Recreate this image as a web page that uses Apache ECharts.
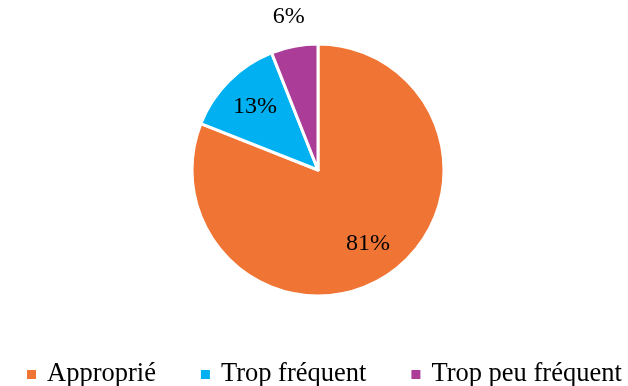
<!DOCTYPE html>
<html>
<head>
<meta charset="utf-8">
<script src="https://cdn.jsdelivr.net/npm/echarts@6/dist/echarts.min.js"></script>
<style>
  html, body { margin: 0; padding: 0; background: #fff; }
  #chart { width: 628px; height: 386px; }
</style>
</head>
<body>
<div id="chart"></div>
<script>
var categories = ["Approprié", "Trop fréquent", "Trop peu fréquent"];
var values = [81, 13, 6];
var colors = ["#F07535", "#00B0F0", "#AB3C97"];
// which slices carry their label inside the pie, and which outside
var labelInside = [true, true, false];

var chart = echarts.init(document.getElementById("chart"));
var fontFamily = "'Liberation Serif', 'DejaVu Serif', serif";

var center = [318, 170];

function pieData(showFn) {
  return categories.map(function (name, i) {
    return {
      name: name,
      value: values[i],
      label: { show: showFn(i) }
    };
  });
}

var option = {
  animation: false,
  color: colors,
  legend: {
    bottom: -7,
    left: 20,
    icon: "rect",
    itemWidth: 11,
    itemHeight: 11,
    itemGap: 43,
    textStyle: {
      fontFamily: fontFamily,
      fontSize: 26.5,
      color: "#000",
      padding: [0, 0, 0, 5]
    },
    data: categories
  },
  series: [
    {
      // visible pie
      type: "pie",
      center: center,
      radius: [0, 126],
      startAngle: 90,
      label: { show: false },
      labelLine: { show: false },
      itemStyle: { borderColor: "#fff", borderWidth: 3 },
      emphasis: { disabled: true },
      data: categories.map(function (name, i) {
        return { name: name, value: values[i] };
      })
    },
    {
      // labels inside the slices
      type: "pie",
      center: center,
      radius: [52, 120],
      startAngle: 90,
      silent: true,
      itemStyle: { color: "transparent" },
      label: {
        position: "inside",
        formatter: "{c}%",
        fontFamily: fontFamily,
        fontSize: 24,
        color: "#000"
      },
      labelLine: { show: false },
      emphasis: { disabled: true },
      data: pieData(function (i) { return labelInside[i]; })
    },
    {
      // labels outside the slices
      type: "pie",
      center: center,
      radius: [140, 166],
      startAngle: 90,
      silent: true,
      itemStyle: { color: "transparent" },
      label: {
        position: "inside",
        formatter: "{c}%",
        fontFamily: fontFamily,
        fontSize: 24,
        color: "#000"
      },
      labelLine: { show: false },
      emphasis: { disabled: true },
      data: pieData(function (i) { return !labelInside[i]; })
    }
  ]
};

chart.setOption(option);
</script>
</body>
</html>
